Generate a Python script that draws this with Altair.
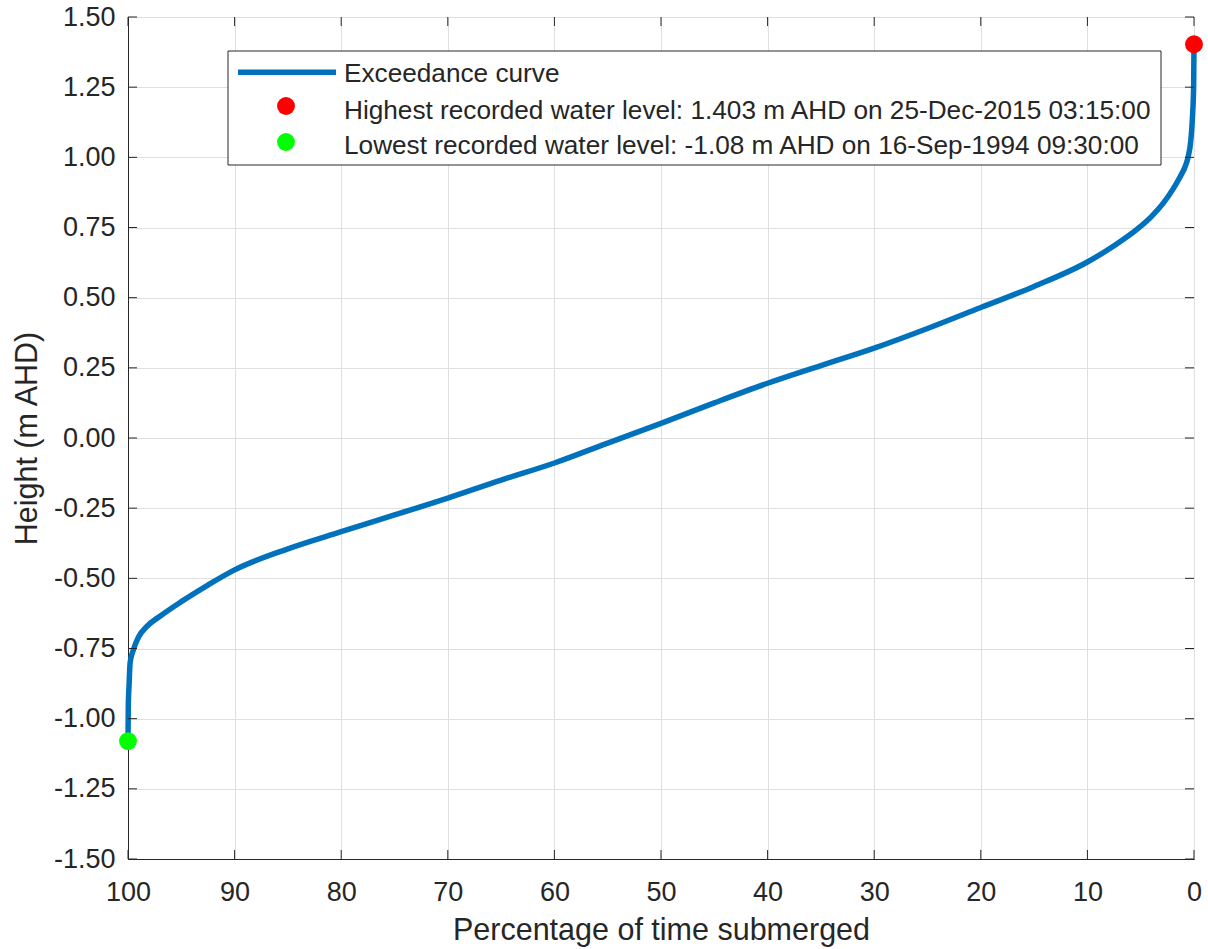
import altair as alt
import pandas as pd

# Exceedance curve: percentage of time submerged vs water level (m AHD)
pct_submerged = [100, 99.97, 99.9, 99.8, 99.5, 99, 98.25, 97, 95, 92.5, 90, 85, 80, 75,
                 70, 65, 60, 55, 50, 45, 40, 35, 30, 25, 20, 15, 10, 7.5, 5.3, 4.0, 2.9,
                 2.0, 1.3, 0.8, 0.56, 0.3, 0.12, 0.03, 0]
height_m = [-1.08, -0.95, -0.88, -0.80, -0.755, -0.708, -0.672, -0.635, -0.583, -0.524,
            -0.470, -0.395, -0.334, -0.274, -0.214, -0.150, -0.089, -0.018, 0.052, 0.125,
            0.195, 0.258, 0.320, 0.390, 0.465, 0.540, 0.627, 0.685, 0.745, 0.789, 0.836,
            0.885, 0.931, 0.970, 1.00, 1.06, 1.16, 1.26, 1.403]

# Recorded extremes
highest_level = 1.403
highest_date = "25-Dec-2015 03:15:00"
lowest_level = -1.08
lowest_date = "16-Sep-1994 09:30:00"

x_ticks = [0, 10, 20, 30, 40, 50, 60, 70, 80, 90, 100]
y_ticks = [-1.5, -1.25, -1.0, -0.75, -0.5, -0.25, 0.0, 0.25, 0.5, 0.75, 1.0, 1.25, 1.5]

legend_labels = [
    "Exceedance curve",
    f"Highest recorded water level: {highest_level:.3f} m AHD on {highest_date}",
    f"Lowest recorded water level: {lowest_level:g} m AHD on {lowest_date}",
]

W, H = 1066, 842
FONT = "Liberation Sans"
INK = "#262626"
BLUE = "#0072BD"

curve = pd.DataFrame({"pct": pct_submerged, "h": height_m,
                      "i": list(range(len(pct_submerged)))})
extremes = pd.DataFrame({"pct": [0, 100], "h": [highest_level, lowest_level],
                         "kind": ["high", "low"]})
xt = pd.DataFrame({"v": x_ticks})
yt = pd.DataFrame({"v": y_ticks})
one = pd.DataFrame({"k": [0]})

xscale = alt.Scale(domain=[0, 100], reverse=True, nice=False, zero=False)
yscale = alt.Scale(domain=[-1.5, 1.5], nice=False, zero=False)

# plain hyphen for negative tick labels
y_label_expr = ("datum.value < 0 ? '-' + format(-datum.value, '.2f') "
                ": format(datum.value, '.2f')")

x_axis = alt.Axis(values=x_ticks, format="d", title="Percentage of time submerged",
                  grid=True, gridColor="#DFDFDF", ticks=False, tickSize=0,
                  labelPadding=20, labelFontSize=27, labelColor=INK, labelFont=FONT,
                  titleFont=FONT, titleFontSize=30.5, titleColor=INK, titleFontWeight="normal",
                  titleBaseline="alphabetic", titleY=80,
                  domainColor=INK, labelFlush=False)
y_axis = alt.Axis(values=y_ticks, labelExpr=y_label_expr, title="Height (m AHD)",
                  grid=True, gridColor="#DFDFDF", ticks=False, tickSize=0,
                  labelPadding=13, labelFontSize=27, labelColor=INK, labelFont=FONT,
                  titleFont=FONT, titleFontSize=30.5, titleColor=INK, titleFontWeight="normal",
                  titleBaseline="middle", titleX=-101, titleY=H / 2,
                  domainColor=INK, labelFlush=False)

line = alt.Chart(curve).mark_line(color=BLUE, strokeWidth=5.5, strokeJoin="round",
                                  interpolate="monotone").encode(
    x=alt.X("pct:Q", scale=xscale, axis=x_axis),
    y=alt.Y("h:Q", scale=yscale, axis=y_axis),
    order="i:Q",
)

dots = alt.Chart(extremes).mark_circle(size=320, opacity=1).encode(
    x=alt.X("pct:Q", scale=xscale),
    y=alt.Y("h:Q", scale=yscale),
    color=alt.Color("kind:N", scale=alt.Scale(domain=["high", "low"],
                                              range=["#FF0000", "#00FF00"]), legend=None),
)

# Inward ticks on all four sides of the box
TL = 9
bottom_ticks = alt.Chart(xt).mark_rule(color=INK, strokeWidth=1).encode(
    x=alt.X("v:Q", scale=xscale), y=alt.value(H), y2=alt.value(H - TL))
top_ticks = alt.Chart(xt).mark_rule(color=INK, strokeWidth=1).encode(
    x=alt.X("v:Q", scale=xscale), y=alt.value(0), y2=alt.value(TL))
left_ticks = alt.Chart(yt).mark_rule(color=INK, strokeWidth=1).encode(
    y=alt.Y("v:Q", scale=yscale), x=alt.value(0), x2=alt.value(TL))
right_ticks = alt.Chart(yt).mark_rule(color=INK, strokeWidth=1).encode(
    y=alt.Y("v:Q", scale=yscale), x=alt.value(W), x2=alt.value(W - TL))

# Legend box
lg_box = alt.Chart(one).mark_rect(fill="white", stroke=INK, strokeWidth=1).encode(
    x=alt.value(100), x2=alt.value(1033), y=alt.value(34), y2=alt.value(148))
lg_line = alt.Chart(one).mark_rule(color=BLUE, strokeWidth=5.5).encode(
    x=alt.value(110), x2=alt.value(208), y=alt.value(55.3))
lg_red = alt.Chart(one).mark_circle(size=320, opacity=1, color="#FF0000").encode(
    x=alt.value(158), y=alt.value(89))
lg_green = alt.Chart(one).mark_circle(size=320, opacity=1, color="#00FF00").encode(
    x=alt.value(158), y=alt.value(125))

def lg_text(label, ybase):
    return alt.Chart(one).mark_text(
        text=label, align="left", baseline="alphabetic", font=FONT,
        fontSize=26.2, color=INK).encode(x=alt.value(216), y=alt.value(ybase))

legend_layers = [lg_box, lg_line, lg_red, lg_green,
                 lg_text(legend_labels[0], 64.7),
                 lg_text(legend_labels[1], 102),
                 lg_text(legend_labels[2], 137.3)]

chart = alt.layer(
    line, dots, bottom_ticks, top_ticks, left_ticks, right_ticks, *legend_layers
).properties(
    width=W, height=H,
    autosize=alt.AutoSizeParams(type="none"),
    padding={"left": 128, "top": 17, "right": 14, "bottom": 90},
    background="white",
).configure_view(stroke=INK, strokeWidth=1)

chart.save("out.html", embed_options={"renderer": "svg", "actions": False})
